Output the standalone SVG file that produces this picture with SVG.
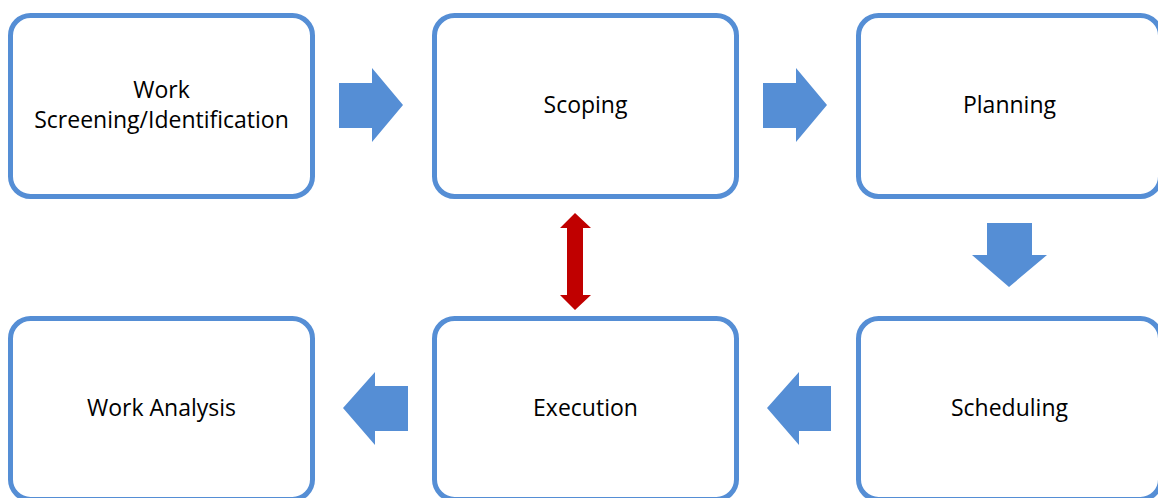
<svg xmlns="http://www.w3.org/2000/svg" width="1158" height="498" viewBox="0 0 1158 498">
  <style>
    .box { fill: #ffffff; stroke: #558ED5; stroke-width: 5; }
    .lbl { font-family: "Open Sans", "Liberation Sans", sans-serif; font-size: 23px; fill: #000000; text-anchor: middle; }
    .flow { fill: #558ED5; }
    .link { fill: #C00000; }
  </style>
  <rect width="1158" height="498" fill="#ffffff"/>

  <g id="node-screening">
    <rect class="box" x="10.5" y="15.5" width="302" height="181" rx="20"/>
    <text class="lbl" x="161.5" y="98">Work</text>
    <text class="lbl" x="161.5" y="128">Screening/Identification</text>
  </g>
  <g id="node-scoping">
    <rect class="box" x="434.5" y="15.5" width="302" height="181" rx="20"/>
    <text class="lbl" x="585.5" y="113">Scoping</text>
  </g>
  <g id="node-planning">
    <rect class="box" x="858.5" y="15.5" width="302" height="181" rx="20"/>
    <text class="lbl" x="1009.5" y="113">Planning</text>
  </g>
  <g id="node-analysis">
    <rect class="box" x="10.5" y="318.5" width="302" height="181" rx="20"/>
    <text class="lbl" x="161.5" y="416">Work Analysis</text>
  </g>
  <g id="node-execution">
    <rect class="box" x="434.5" y="318.5" width="302" height="181" rx="20"/>
    <text class="lbl" x="585.5" y="416">Execution</text>
  </g>
  <g id="node-scheduling">
    <rect class="box" x="858.5" y="318.5" width="302" height="181" rx="20"/>
    <text class="lbl" x="1009.5" y="416">Scheduling</text>
  </g>

  <g id="connectors">
    <!-- right-pointing block arrows -->
    <polygon class="flow" points="339,83 372,83 372,68 403,105 372,142 372,128 339,128"/>
    <polygon class="flow" points="763,83 796,83 796,68 827,105 796,142 796,128 763,128"/>
    <!-- down block arrow -->
    <polygon class="flow" points="987,223 1032,223 1032,255 1047,255 1009,287 972,255 987,255"/>
    <!-- left-pointing block arrows -->
    <polygon class="flow" points="831,386 799,386 799,372 767,408 799,445 799,431 831,431"/>
    <polygon class="flow" points="408,386 375,386 375,372 343,408 375,445 375,431 408,431"/>
    <!-- two-way link between Scoping and Execution -->
    <polygon class="link" points="575,213 591,228 583,228 583,295 591,295 575,310 560,295 567,295 567,228 560,228"/>
  </g>
</svg>
